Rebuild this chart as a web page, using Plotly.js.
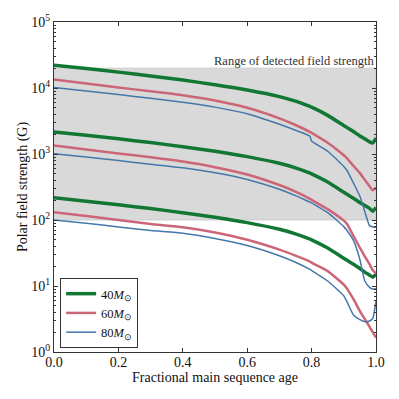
<!DOCTYPE html>
<html><head><meta charset="utf-8">
<script src="https://cdn.plot.ly/plotly-3.0.1.min.js"></script>
<style>html,body{margin:0;padding:0;background:#fff}#chart{width:399px;height:399px}</style>
</head><body><div id="chart"></div>
<script>
// Fractional main sequence age (shared x values)
const age = [0, 0.1, 0.2, 0.3, 0.4, 0.5, 0.6, 0.7, 0.75, 0.795, 0.8, 0.85, 0.9, 0.91, 0.93, 0.95, 0.965, 0.98, 0.99, 1.0];

// Polar field strength (G), three initial-field families per mass
const m40_high = [22200, 19700, 17400, 15200, 13200, 11200, 9330, 7410, 6310, 5250, 5130, 3850, 2690, 2510, 2190, 1880, 1700, 1530, 1470, 1740];
const m40_mid  = [2160, 1930, 1700, 1490, 1290, 1100, 912, 724, 617, 513, 501, 376, 263, 245, 214, 184, 166, 150, 136, 155];
const m40_low  = [217, 193, 170, 149, 129, 110, 91.2, 72.4, 61.7, 51.3, 50.1, 37.6, 26.3, 24.5, 21.4, 18.4, 16.2, 14.6, 13.6, 15.1];

const m60_high = [13500, 11700, 10200, 8910, 7760, 6460, 5010, 3470, 2750, 2160, 2090, 1480, 955, 861, 661, 513, 407, 324, 282, 309];
const m60_mid  = [1350, 1170, 1020, 891, 767, 631, 490, 339, 269, 209, 202, 146, 97.7, 87.1, 57.5, 38.0, 28.2, 21.4, 17.4, 15.5];
const m60_low  = [131, 115, 100, 87.1, 77.6, 64.6, 50.1, 35.5, 28.8, 23.4, 22.6, 16.8, 10.5, 9.12, 6.31, 4.17, 3.16, 2.40, 2.0, 1.65];

const m80_high = [10200, 9020, 7940, 7000, 6100, 5130, 4070, 2820, 2290, 1860, 1570, 1100, 646, 562, 363, 229, 135, 82.2, 78.5, 77.6];
const m80_mid  = [1010, 902, 794, 700, 617, 519, 412, 292, 234, 186, 182, 129, 79.4, 69.2, 49.0, 25.1, 12.0, 9.55, 9.02, 9.12];
const m80_low  = [100, 89.1, 78.5, 69.2, 63.1, 52.5, 41.2, 28.8, 22.9, 17.8, 17.2, 11.9, 7.08, 5.75, 3.63, 3.09, 2.88, 2.95, 3.24, 5.89];

// Range of detected field strength (G)
const bandAge = [0, 1, 1, 0];
const bandField = [100, 100, 20000, 20000];
const bandLabel = 'Range of detected field strength';

const massLabels = ['40<i>M</i><sub>⊙</sub>', '60<i>M</i><sub>⊙</sub>', '80<i>M</i><sub>⊙</sub>'];
const xTicks = [0, 0.2, 0.4, 0.6, 0.8, 1.0];
const yTickVals = [1, 10, 100, 1000, 10000, 100000];
const yTickText = ['10<sup>0</sup>', '10<sup>1</sup>', '10<sup>2</sup>', '10<sup>3</sup>', '10<sup>4</sup>', '10<sup>5</sup>'];

const yMinorVals = [];
for (let d = 0; d < 5; d++) for (let k = 2; k <= 9; k++) yMinorVals.push(k * Math.pow(10, d));

const serif = 'Liberation Serif, Times New Roman, serif';
const colors = ['#117733', '#CC6677', '#4477AA'];
const widths = [3.5, 2.5, 1.5];
const families = [
  [m40_high, m40_mid, m40_low],
  [m60_high, m60_mid, m60_low],
  [m80_high, m80_mid, m80_low]
];

const traces = [{
  x: bandAge, y: bandField, type: 'scatter', mode: 'lines', fill: 'toself',
  fillcolor: '#d9d9d9', line: {width: 0.8, color: '#c6c6c6'},
  showlegend: false, hoverinfo: 'skip'
}];

families.forEach((fam, i) => {
  fam.forEach((ys, j) => {
    traces.push({
      x: age, y: ys, type: 'scatter', mode: 'lines',
      name: massLabels[i], showlegend: j === 0,
      line: {color: colors[i], width: widths[i], shape: 'spline', smoothing: 0.5}
    });
  });
});

const axisCommon = {
  showline: true, linecolor: '#333', linewidth: 1, mirror: 'allticks',
  ticks: 'inside', ticklen: 4, tickcolor: '#333', showgrid: false, zeroline: false,
  tickfont: {family: serif, size: 14, color: '#111'}
};

const layout = {
  width: 399, height: 399,
  margin: {l: 54, r: 23, t: 22, b: 47},
  paper_bgcolor: '#fff', plot_bgcolor: '#fff',
  font: {family: serif, color: '#111'},
  xaxis: Object.assign({}, axisCommon, {
    range: [0, 1], tickvals: xTicks, tickformat: '.1f', ticklabelstandoff: -3,
    title: {text: 'Fractional main sequence age', font: {family: serif, size: 14, color: '#111'}, standoff: 2}
  }),
  yaxis: Object.assign({}, axisCommon, {
    type: 'log', range: [0, 5], tickvals: yTickVals, ticktext: yTickText,
    minor: {tickvals: yMinorVals, ticks: 'inside', ticklen: 2, tickcolor: '#333', showgrid: false},
    title: {text: 'Polar field strength (G)', font: {family: serif, size: 14, color: '#111'}, standoff: 0}
  }),
  legend: {
    x: 0.019, y: 0.012, xanchor: 'left', yanchor: 'bottom',
    bgcolor: '#fff', bordercolor: '#333', borderwidth: 1, tracegroupgap: 0,
    font: {family: serif, size: 12.5, color: '#111'}
  },
  annotations: [{
    text: bandLabel, xref: 'paper', yref: 'paper', x: 1, y: 0.8818,
    xanchor: 'right', yanchor: 'middle', showarrow: false,
    font: {family: serif, size: 12.5, color: '#333'}
  }]
};

Plotly.newPlot('chart', traces, layout, {displayModeBar: false, staticPlot: true});
</script>
</body></html>
